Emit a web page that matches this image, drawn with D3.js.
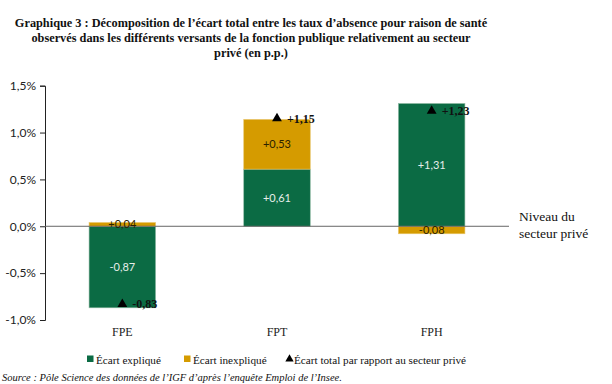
<!DOCTYPE html>
<html>
<head>
<meta charset="utf-8">
<script src="https://cdn.jsdelivr.net/npm/d3@7"></script>
<style>
  body { margin: 0; background: #fff; }
  svg { display: block; }
  .serif { font-family: "Liberation Serif", "DejaVu Serif", serif; }
  .sans { font-family: Lato, "Liberation Sans", sans-serif; }
</style>
</head>
<body>
<svg id="chart" width="612" height="384"></svg>
<script>
const categories = ['FPE', 'FPT', 'FPH'];
const explained = [-0.87, 0.61, 1.31];
const unexplained = [0.04, 0.53, -0.08];
const totals = [-0.83, 1.15, 1.23];
const yTicks = [-1.0, -0.5, 0.0, 0.5, 1.0, 1.5];

const titleLines = [
  'Graphique 3 : Décomposition de l’écart total entre les taux d’absence pour raison de santé',
  'observés dans les différents versants de la fonction publique relativement au secteur',
  'privé (en p.p.)'
];

const GREEN = '#0b6b44';
const GOLD = '#d59b00';

const svg = d3.select('#chart');

// hyphen instead of unicode minus, comma decimal
const num = (v, p) => d3.format('.' + p + 'f')(v).replace('\u2212', '-').replace('.', ',');
const fmt = v => (v >= 0 ? '+' : '') + num(v, 2);

// title
svg.append('g').selectAll('text')
  .data(titleLines)
  .join('text')
  .attr('class', 'serif')
  .attr('x', 251)
  .attr('y', (d, i) => 27 + i * 15)
  .attr('text-anchor', 'middle')
  .attr('font-size', '12.3px')
  .attr('font-weight', 'bold')
  .attr('fill', '#111')
  .text(d => d);

const x = d3.scaleBand()
  .domain(categories)
  .range([45, 509])
  .paddingInner(0.57)
  .paddingOuter(0.285);

const y = d3.scaleLinear()
  .domain([-1.0, 1.5])
  .range([320, 85.7]);

// y axis
const yAxis = d3.axisLeft(y)
  .tickValues(yTicks)
  .tickSize(5)
  .tickFormat(d => num(d, 1) + '%');

const gy = svg.append('g')
  .attr('transform', 'translate(45,0)')
  .call(yAxis);
gy.select('.domain').attr('stroke', '#222');
gy.selectAll('.tick line').attr('stroke', '#222');
gy.selectAll('.tick text')
  .attr('class', 'sans')
  .attr('font-size', '12px')
  .attr('fill', '#222')
  .attr('x', -9);

// bars: explained from 0, unexplained stacked on top when same sign
const segs = [];
categories.forEach((c, i) => {
  const e = explained[i], u = unexplained[i];
  segs.push({ cat: c, type: 'e', y0: 0, y1: e, v: e });
  const base = (u >= 0 && e >= 0) || (u < 0 && e < 0) ? e : 0;
  segs.push({ cat: c, type: 'u', y0: base, y1: base + u, v: u });
});

svg.append('g').selectAll('rect')
  .data(segs)
  .join('rect')
  .attr('x', d => x(d.cat))
  .attr('width', x.bandwidth())
  .attr('y', d => y(Math.max(d.y0, d.y1)))
  .attr('height', d => Math.abs(y(d.y0) - y(d.y1)))
  .attr('fill', d => d.type === 'e' ? GREEN : GOLD)
  .attr('stroke', d => d.type === 'e' ? '#8fb9a3' : '#e8c56a')
  .attr('stroke-width', 0.6);

// zero line
svg.append('line')
  .attr('x1', 45).attr('x2', 509)
  .attr('y1', y(0)).attr('y2', y(0))
  .attr('stroke', '#666')
  .attr('stroke-width', 1);

// segment labels
svg.append('g').selectAll('text')
  .data(segs)
  .join('text')
  .attr('class', 'sans')
  .attr('x', d => x(d.cat) + x.bandwidth() / 2)
  .attr('y', d => y((d.y0 + d.y1) / 2) + 4)
  .attr('text-anchor', 'middle')
  .attr('font-size', '11px')
  .attr('fill', d => d.type === 'e' ? '#e6eee9' : '#2a2200')
  .text(d => fmt(d.v));

// total markers
const tri = d3.symbol().type(d3.symbolTriangle).size(42);
const tg = svg.append('g').selectAll('g')
  .data(totals)
  .join('g')
  .attr('transform', (d, i) => `translate(${x(categories[i]) + x.bandwidth() / 2},${y(d)})`);
tg.append('path').attr('d', tri).attr('fill', '#000');
tg.append('text')
  .attr('class', 'serif')
  .attr('x', 10)
  .attr('y', 4)
  .attr('font-size', '12px')
  .attr('font-weight', 'bold')
  .attr('fill', '#111')
  .text(d => fmt(d));

// category labels
svg.append('g').selectAll('text')
  .data(categories)
  .join('text')
  .attr('class', 'serif')
  .attr('x', d => x(d) + x.bandwidth() / 2)
  .attr('y', 336)
  .attr('text-anchor', 'middle')
  .attr('font-size', '12px')
  .attr('fill', '#222')
  .text(d => d);

// private sector note
svg.append('text')
  .attr('class', 'serif')
  .attr('font-size', '13.5px')
  .attr('fill', '#111')
  .selectAll('tspan')
  .data(['Niveau du', 'secteur privé'])
  .join('tspan')
  .attr('x', 519)
  .attr('y', (d, i) => 221 + i * 17)
  .text(d => d);

// legend
const legend = [
  { label: 'Écart expliqué', x: 87, kind: 'rect', color: GREEN },
  { label: 'Écart inexpliqué', x: 184, kind: 'rect', color: GOLD },
  { label: 'Écart total par rapport au secteur privé', x: 286, kind: 'tri', color: '#000' }
];
const lg = svg.append('g').selectAll('g')
  .data(legend)
  .join('g')
  .attr('transform', d => `translate(${d.x},359)`);
lg.filter(d => d.kind === 'rect').append('rect')
  .attr('x', 0).attr('y', -3.5).attr('width', 6.5).attr('height', 6.5)
  .attr('fill', d => d.color);
lg.filter(d => d.kind === 'tri').append('path')
  .attr('d', d3.symbol().type(d3.symbolTriangle).size(30))
  .attr('transform', 'translate(3.5,0)')
  .attr('fill', '#000');
lg.append('text')
  .attr('class', 'serif')
  .attr('x', d => d.kind === 'tri' ? 8 : 9)
  .attr('y', 4.5)
  .attr('font-size', '11.2px')
  .attr('fill', '#111')
  .text(d => d.label);

// source
svg.append('text')
  .attr('class', 'serif')
  .attr('x', 2)
  .attr('y', 381)
  .attr('font-size', '10.5px')
  .attr('font-style', 'italic')
  .attr('fill', '#111')
  .text('Source : Pôle Science des données de l’IGF d’après l’enquête Emploi de l’Insee.');
</script>
</body>
</html>
